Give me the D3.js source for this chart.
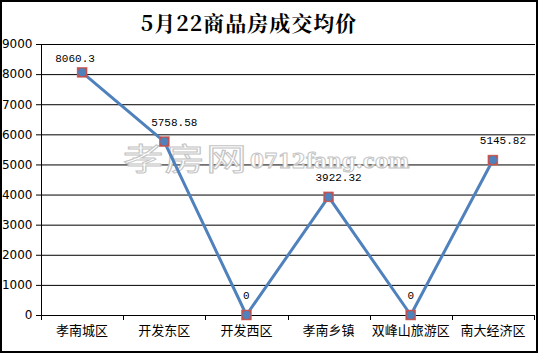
<!DOCTYPE html>
<html>
<head>
<meta charset="utf-8">
<script src="https://cdn.jsdelivr.net/npm/d3@7"></script>
<style>
body { margin: 0; background: #fff; }
text { font-family: "Noto Sans CJK SC", "DejaVu Sans", sans-serif; }
</style>
</head>
<body>
<script>
const w = 538;
const h = 353;

const categories = ['孝南城区', '开发东区', '开发西区', '孝南乡镇', '双峰山旅游区', '南大经济区'];
const prices = [8060.3, 5758.58, 0, 3922.32, 0, 5145.82];
const labels = ['8060.3', '5758.58', '0', '3922.32', '0', '5145.82'];
const yTicks = [0, 1000, 2000, 3000, 4000, 5000, 6000, 7000, 8000, 9000];

const plotL = 41, plotR = 535, plotT = 44, plotB = 315;

const svg = d3.select('body').append('svg').attr('width', w).attr('height', h);

svg.append('rect').attr('x', 1).attr('y', 1).attr('width', w - 2).attr('height', h - 2)
  .attr('fill', '#fff').attr('stroke', '#000').attr('stroke-width', 2);

const x = d3.scaleBand().domain(categories).range([plotL, plotR - 1]);
const y = d3.scaleLinear().domain([0, 9000]).range([plotB, plotT]);
const cx = i => x(categories[i]) + x.bandwidth() / 2;

// grid
svg.append('g').selectAll('line').data(yTicks).enter().append('line')
  .attr('x1', plotL - 5).attr('x2', plotR).attr('y1', d => y(d) + 0.5).attr('y2', d => y(d) + 0.5)
  .attr('stroke', '#000').attr('stroke-width', 1);

// y axis
const yAxis = svg.append('g').attr('transform', 'translate(' + (plotL + 0.5) + ',0)')
  .call(d3.axisLeft(y).tickValues(yTicks).tickSize(5).tickFormat(d3.format('d')));
yAxis.select('.domain').remove();
yAxis.selectAll('line').remove();
yAxis.selectAll('text').attr('font-size', 12).attr('fill', '#000').attr('x', -9)
  .style('font-family', '"DejaVu Sans", sans-serif');
svg.append('line').attr('x1', plotL + 0.5).attr('x2', plotL + 0.5).attr('y1', plotT).attr('y2', plotB + 5)
  .attr('stroke', '#000');

// x axis
const xAxis = svg.append('g').attr('transform', 'translate(0,' + (plotB + 0.5) + ')')
  .call(d3.axisBottom(x).tickSize(0).tickPadding(10));
xAxis.select('.domain').remove();
xAxis.selectAll('text').attr('font-size', 13).attr('fill', '#000');
svg.append('g').selectAll('line').data(categories.concat(['end'])).enter().append('line')
  .attr('x1', (d, i) => Math.round(plotL + i * x.step()) + 0.5)
  .attr('x2', (d, i) => Math.round(plotL + i * x.step()) + 0.5)
  .attr('y1', plotB).attr('y2', plotB + 5).attr('stroke', '#000');

// watermark
const wm = svg.append('g').attr('fill', '#fff').attr('stroke', '#c4c4c4').attr('stroke-width', 1);
wm.append('text').attr('transform', 'translate(123,170) scale(1.3,1)').attr('font-size', 31)
  .attr('letter-spacing', 1).text('孝房网');
wm.append('text').attr('x', 250).attr('y', 168).attr('font-size', 20).attr('font-weight', 'bold')
  .style('font-family', '"DejaVu Serif", serif').text('0712fang.com');

// line
const line = d3.line().x((d, i) => cx(i)).y(d => y(d));
svg.append('path').datum(prices).attr('d', line).attr('fill', 'none')
  .attr('stroke', '#4f81bd').attr('stroke-width', 3).attr('stroke-linejoin', 'round');

// markers
const pts = svg.append('g').selectAll('g').data(prices).enter().append('g')
  .attr('transform', (d, i) => 'translate(' + cx(i) + ',' + y(d) + ')');
pts.append('rect').attr('x', -5).attr('y', -5).attr('width', 10).attr('height', 10)
  .attr('fill', '#c0504d').attr('stroke', '#d06a66').attr('stroke-width', 0.5);
pts.append('circle').attr('r', 4).attr('fill', '#4f81bd');

// data labels: above the point, nudged right; kept inside the plot at the top
const labelY = d => Math.max(y(d) - 16, plotT + 18);
const labelDx = d => (d === 0 ? 0 : (y(d) - 16 < plotT + 18 ? -7 : 10));
svg.append('g').selectAll('text').data(prices).enter().append('text')
  .attr('x', (d, i) => cx(i) + labelDx(d))
  .attr('y', labelY)
  .attr('text-anchor', 'middle').attr('font-size', 11).attr('fill', '#000')
  .style('font-family', '"Liberation Mono", monospace')
  .text((d, i) => labels[i]);

// title
svg.append('text').attr('x', 249).attr('y', 31).attr('text-anchor', 'middle')
  .attr('font-size', 21).attr('font-weight', 'bold').attr('fill', '#000').attr('letter-spacing', 1)
  .style('font-family', '"Noto Serif CJK SC", "Noto Sans CJK SC", serif')
  .text('5月22商品房成交均价');
</script>
</body>
</html>
